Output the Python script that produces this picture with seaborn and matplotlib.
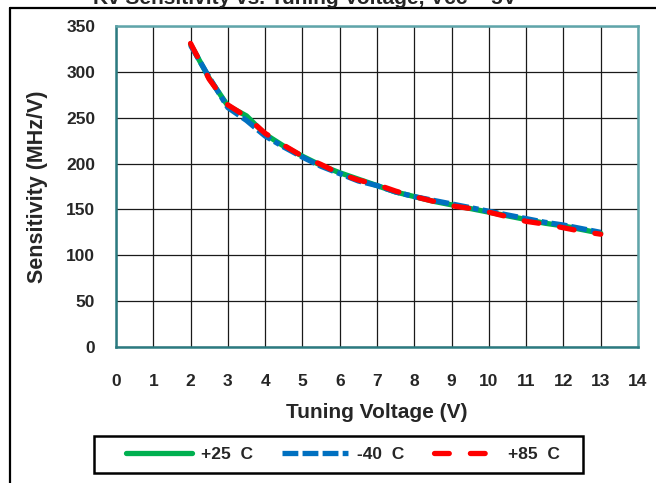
import numpy as np
import pandas as pd
import matplotlib
matplotlib.use("Agg")
import matplotlib.pyplot as plt
import seaborn as sns
from matplotlib.lines import Line2D
from matplotlib.patches import Rectangle

# Tuning voltage (V)
voltage = [2, 2.5, 3, 3.5, 4, 4.5, 5, 5.5, 6, 6.5, 7, 7.5, 8, 8.5, 9, 9.5,
           10, 10.5, 11, 11.5, 12, 12.5, 13]

# Kv sensitivity (MHz/V) per temperature
kv_p25 = [330, 293, 263, 252, 232, 219, 208, 198, 190, 183, 176, 169, 164,
          159, 155, 151, 147, 143, 139, 135, 132, 128, 124]
kv_m40 = [329, 294, 261, 247, 230, 218, 207, 197, 189, 181, 176, 169, 164,
          160, 156, 152, 148, 144, 140, 136, 133, 129, 125]
kv_p85 = [331, 292, 264, 251, 233, 220, 208, 199, 189, 182, 177, 170, 164,
          159, 154, 151, 147, 142, 137, 134, 130, 126, 123]

series_names = ["+25  C", "-40  C", "+85  C"]
x_ticks = list(range(0, 15))
y_ticks = list(range(0, 351, 50))

sns.set_style("white")
plt.rcParams["font.family"] = ["Liberation Sans", "DejaVu Sans"]
plt.rcParams["font.weight"] = "bold"

fig = plt.figure(figsize=(6.56, 4.83), dpi=100)
W, H = 656, 483
ax = fig.add_axes([116 / W, 1 - 347 / H, (638 - 116) / W, (347 - 26) / H])

df = pd.DataFrame({"V": voltage, series_names[0]: kv_p25,
                   series_names[1]: kv_m40, series_names[2]: kv_p85})

styles = {
    series_names[0]: dict(color="#00B050", dashes=None, cap="round"),
    series_names[1]: dict(color="#0070C0", dashes=(3.0, 0.8, 3.0, 0.8, 3.0, 0.8, 1.1, 0.8), cap="butt"),
    series_names[2]: dict(color="#FF0000", dashes=(2.8, 4.0), cap="round"),
}

for name in series_names:
    st = styles[name]
    sns.lineplot(data=df, x="V", y=name, ax=ax, color=st["color"],
                 linewidth=3.8, label=name)
    ln = ax.get_lines()[-1]
    if st["dashes"] is not None:
        ln.set_dashes(st["dashes"])
    ln.set_dash_capstyle(st["cap"])
    ln.set_solid_capstyle("round")

ax.set_xlim(0, 14)
ax.set_ylim(0, 350)
ax.set_xticks(x_ticks)
ax.set_yticks(y_ticks)
ax.grid(True, color="#1a1a1a", linewidth=0.9)
ax.set_axisbelow(True)
ax.tick_params(axis="both", direction="out", length=5, width=0.9, color="#333333",
               labelsize=12.5)
ax.tick_params(axis="y", pad=10)
ax.tick_params(axis="x", pad=14.5)
for lab in ax.get_xticklabels() + ax.get_yticklabels():
    lab.set_fontweight("bold")

for side in ["left", "bottom"]:
    ax.spines[side].set_color("#2B7A80")
    ax.spines[side].set_linewidth(1.8)
for side in ["top", "right"]:
    ax.spines[side].set_color("#5FA5AA")
    ax.spines[side].set_linewidth(1.8)
    ax.spines[side].set_visible(True)

ax.set_xlabel("Tuning Voltage (V)", fontsize=15, fontweight="bold", labelpad=10)
ax.set_ylabel("Sensitivity (MHz/V)", fontsize=15.5, fontweight="bold", labelpad=13)

# legend: entries without frame, box drawn separately (Excel-like padding)
handles, labels = ax.get_legend_handles_labels()
if ax.get_legend():
    ax.get_legend().remove()
fig.legend(handles, labels, loc="center", ncol=3,
           bbox_to_anchor=(343 / W, 1 - 454.5 / H),
           frameon=False, handlelength=3.8,
           columnspacing=1.7, handletextpad=0.5, borderpad=0.3,
           borderaxespad=0, prop={"weight": "bold", "size": 12.5})
fig.add_artist(Rectangle((94 / W, 1 - 473 / H), (583 - 94) / W, (473 - 436) / H,
                         transform=fig.transFigure, facecolor="none",
                         edgecolor="black", linewidth=1.8))

fig.text(305 / W, 1 - 4 / H, "Kv Sensitivity vs. Tuning Voltage, Vcc = 5V",
         ha="center", va="baseline", fontsize=15, fontweight="bold")

fig.add_artist(Line2D([10 / W, 1.0], [1 - 8 / H, 1 - 8 / H], transform=fig.transFigure,
                      color="black", linewidth=1.6))
fig.add_artist(Line2D([10 / W, 10 / W], [0.0, 1 - 8 / H], transform=fig.transFigure,
                      color="black", linewidth=1.6))

fig.savefig("out.png", dpi=100)
